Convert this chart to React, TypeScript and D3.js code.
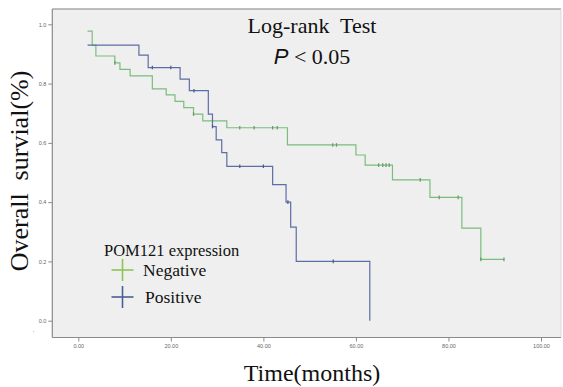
import React, { useEffect, useRef } from 'react';
import * as d3 from 'd3';

// Kaplan-Meier steps (time in months, survival fraction)
const negTimes = [2, 3.0, 3.8, 7.9, 9.0, 11.2, 16.0, 19.0, 20.9, 22.8, 24.9, 26.9, 32.1, 45.2, 60.0, 62.0, 67.9, 76.0, 82.9, 87.0, 92.0];
const negSurv = [0.977, 0.93, 0.893, 0.87, 0.848, 0.826, 0.782, 0.762, 0.74, 0.719, 0.697, 0.674, 0.651, 0.593, 0.559, 0.525, 0.475, 0.416, 0.312, 0.207, 0.207];
const negCensor = [7.9, 24.9, 34.9, 38.0, 42.0, 43.0, 55.0, 55.8, 64.9, 65.8, 66.5, 67.2, 73.9, 78.0, 82.1, 87.0, 92.0];

const posTimes = [2, 13.1, 15.1, 22.0, 24.0, 28.1, 29.0, 29.8, 31.0, 32.1, 42.0, 44.9, 45.9, 47.1, 63.0];
const posSurv = [0.93, 0.896, 0.854, 0.815, 0.776, 0.697, 0.655, 0.61, 0.567, 0.521, 0.459, 0.40, 0.316, 0.2, 0];
const posCensor = [16.0, 20.0, 25.0, 29.0, 34.9, 40.0, 45.3, 55.1];

const xTicks = [0, 20, 40, 60, 80, 100];
const yTicks = [0, 0.2, 0.4, 0.6, 0.8, 1.0];

const legendTitle = 'POM121 expression';
const groups = ['Negative', 'Positive'];
const lineColors = ['#7abd7d', '#5b6ea6'];
const legendColors = ['#8cc455', '#4b5e98'];

const SERIF = "'Liberation Serif', 'Times New Roman', serif";
const SANS = "'Liberation Sans', Arial, sans-serif";

const App: React.FC = () => {
    const svgRef = useRef<SVGSVGElement | null>(null);

    useEffect(() => {
        const svg = d3.select(svgRef.current);
        svg.selectAll('*').remove();

        const plot = { left: 52.3, top: 9, right: 561, bottom: 337.5 };

        const x = d3.scaleLinear().domain([0, 100]).range([78.3, 541]);
        const y = d3.scaleLinear().domain([0, 1]).range([320.7, 24.3]);

        // plot background
        svg.append('rect')
            .attr('x', plot.left)
            .attr('y', plot.top)
            .attr('width', plot.right - plot.left)
            .attr('height', plot.bottom - plot.top)
            .attr('fill', '#efefef');
        svg.append('line')
            .attr('x1', plot.left).attr('x2', plot.right)
            .attr('y1', plot.top).attr('y2', plot.top)
            .attr('stroke', '#a8a8a8').attr('stroke-width', 1.5);
        svg.append('line')
            .attr('x1', plot.right).attr('x2', plot.right)
            .attr('y1', plot.top).attr('y2', plot.bottom)
            .attr('stroke', '#d8d8d8').attr('stroke-width', 1);

        // axes
        const yAxis = svg.append('g').attr('transform', `translate(${plot.left},0)`)
            .call(d3.axisLeft(y).tickValues(yTicks).tickFormat(d3.format('.1f')).tickSize(4).tickPadding(2));
        yAxis.select('.domain').attr('d', `M0,${plot.top}V${plot.bottom}`);

        const xAxis = svg.append('g').attr('transform', `translate(0,${plot.bottom})`)
            .call(d3.axisBottom(x).tickValues(xTicks).tickFormat(d3.format('.2f')).tickSize(4).tickPadding(3));
        xAxis.select('.domain').attr('d', `M${plot.left},0H${plot.right}`);

        svg.selectAll('.domain').attr('stroke', '#8a8a8a').attr('stroke-width', 1.2);
        svg.selectAll('.tick line').attr('stroke', '#8a8a8a');
        svg.selectAll('.tick text')
            .attr('font-family', SANS)
            .attr('font-size', 5.5)
            .attr('fill', '#666');

        // stray mark under the y axis
        svg.append('text').attr('x', 33).attr('y', 335)
            .attr('font-size', 6).attr('fill', '#888').text("'");

        // survival curves
        const line = d3.line<[number, number]>()
            .x(d => x(d[0]))
            .y(d => y(d[1]))
            .curve(d3.curveStepAfter);

        const series = [
            { times: negTimes, surv: negSurv, censor: negCensor },
            { times: posTimes, surv: posSurv, censor: posCensor },
        ];

        series.forEach((s, i) => {
            const pts: [number, number][] = s.times.map((t, j) => [t, s.surv[j]]);
            svg.append('path')
                .attr('d', line(pts))
                .attr('fill', 'none')
                .attr('stroke', lineColors[i])
                .attr('stroke-width', 1.2);

            s.censor.forEach(t => {
                let v = s.surv[0];
                s.times.forEach((tt, j) => { if (tt <= t) v = s.surv[j]; });
                svg.append('line')
                    .attr('x1', x(t)).attr('x2', x(t))
                    .attr('y1', y(v) - 1.8).attr('y2', y(v) + 1.8)
                    .attr('stroke', d3.color(lineColors[i])!.darker(0.6).toString())
                    .attr('stroke-width', 1.2);
            });
        });

        // title
        svg.append('text')
            .attr('x', 312).attr('y', 33)
            .attr('text-anchor', 'middle')
            .style('font-family', SERIF)
            .style('white-space', 'pre')
            .attr('font-size', 22)
            .attr('fill', '#111')
            .text('Log-rank  Test');

        const p = svg.append('text')
            .attr('x', 312).attr('y', 64)
            .attr('text-anchor', 'middle')
            .style('font-family', SERIF)
            .attr('font-size', 22)
            .attr('fill', '#111');
        p.append('tspan')
            .style('font-family', SANS)
            .attr('font-style', 'italic')
            .text('P');
        p.append('tspan').text(' < 0.05');

        // axis titles
        svg.append('text')
            .attr('transform', 'translate(28,171) rotate(-90)')
            .attr('text-anchor', 'middle')
            .style('font-family', SERIF)
            .style('white-space', 'pre')
            .attr('font-size', 26)
            .attr('fill', '#111')
            .text('Overall  survial(%)');

        svg.append('text')
            .attr('x', 312).attr('y', 381)
            .attr('text-anchor', 'middle')
            .style('font-family', SERIF)
            .attr('font-size', 24)
            .attr('fill', '#111')
            .text('Time(months)');

        // legend
        svg.append('text')
            .attr('x', 104).attr('y', 256)
            .style('font-family', SERIF)
            .attr('font-size', 16.5)
            .attr('fill', '#111')
            .text(legendTitle);

        groups.forEach((g, i) => {
            const cy = 270 + i * 27;
            const cx = 122.5;
            svg.append('line')
                .attr('x1', cx - 11).attr('x2', cx + 11)
                .attr('y1', cy).attr('y2', cy)
                .attr('stroke', legendColors[i]).attr('stroke-width', 1.6);
            svg.append('line')
                .attr('x1', cx).attr('x2', cx)
                .attr('y1', cy - 11).attr('y2', cy + 11)
                .attr('stroke', legendColors[i]).attr('stroke-width', 1.6);
            svg.append('text')
                .attr('x', 143 + i * 2).attr('y', cy + 6)
                .style('font-family', SERIF)
                .attr('font-size', 17.5)
                .attr('fill', '#111')
                .text(g);
        });
    }, []);

    return (
        <svg ref={svgRef} width={563} height={387}
            style={{ position: 'absolute', left: 0, top: 0, background: '#fff' }} />
    );
};

export default App;
